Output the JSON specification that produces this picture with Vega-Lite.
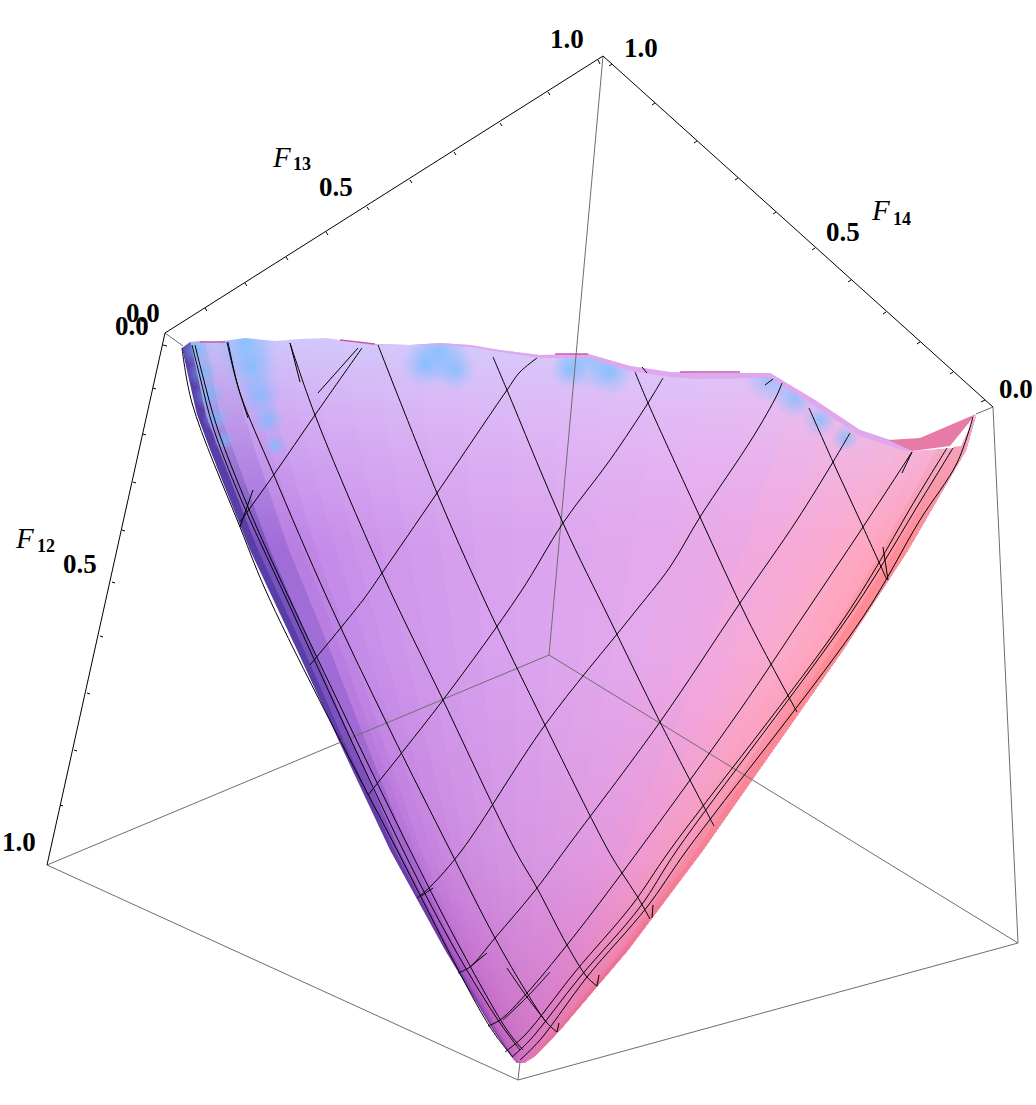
{
"$schema":"https://vega.github.io/schema/vega-lite/v6.json",
"width":1036,"height":1105,"padding":0,"autosize":"none","background":"white",
"config":{"view":{"stroke":null}},
"datasets":{
"surface":[
{"t":0,"y":335,"x":179,"xr":1010},{"t":0,"y":415,"x":197,"xr":976},{"t":0,"y":450,"x":210,"xr":966},{"t":0,"y":550,"x":250,"xr":908},{"t":0,"y":650,"x":297,"xr":843},{"t":0,"y":750,"x":343,"xr":773},{"t":0,"y":850,"x":390,"xr":703},{"t":0,"y":950,"x":445,"xr":628},{"t":0,"y":1030,"x":493,"xr":560},{"t":0,"y":1056,"x":511,"xr":535},{"t":0,"y":1063,"x":517,"xr":524},
{"t":0.012,"y":335,"x":189,"xr":1010},{"t":0.012,"y":415,"x":206,"xr":976},{"t":0.012,"y":450,"x":219,"xr":966},{"t":0.012,"y":550,"x":258,"xr":908},{"t":0.012,"y":650,"x":304,"xr":843},{"t":0.012,"y":750,"x":348,"xr":773},{"t":0.012,"y":850,"x":394,"xr":703},{"t":0.012,"y":950,"x":447,"xr":628},{"t":0.012,"y":1030,"x":494,"xr":560},{"t":0.012,"y":1056,"x":511,"xr":535},{"t":0.012,"y":1063,"x":517,"xr":524},
{"t":0.03,"y":335,"x":204,"xr":1010},{"t":0.03,"y":415,"x":220,"xr":976},{"t":0.03,"y":450,"x":233,"xr":966},{"t":0.03,"y":550,"x":270,"xr":908},{"t":0.03,"y":650,"x":313,"xr":843},{"t":0.03,"y":750,"x":356,"xr":773},{"t":0.03,"y":850,"x":399,"xr":703},{"t":0.03,"y":950,"x":450,"xr":628},{"t":0.03,"y":1030,"x":495,"xr":560},{"t":0.03,"y":1056,"x":512,"xr":535},{"t":0.03,"y":1063,"x":517,"xr":524},
{"t":0.06,"y":335,"x":229,"xr":1010},{"t":0.06,"y":415,"x":244,"xr":976},{"t":0.06,"y":450,"x":255,"xr":966},{"t":0.06,"y":550,"x":289,"xr":908},{"t":0.06,"y":650,"x":330,"xr":843},{"t":0.06,"y":750,"x":369,"xr":773},{"t":0.06,"y":850,"x":409,"xr":703},{"t":0.06,"y":950,"x":456,"xr":628},{"t":0.06,"y":1030,"x":497,"xr":560},{"t":0.06,"y":1056,"x":512,"xr":535},{"t":0.06,"y":1063,"x":517,"xr":524},
{"t":0.08,"y":335,"x":245,"xr":1010},{"t":0.08,"y":415,"x":259,"xr":976},{"t":0.08,"y":450,"x":270,"xr":966},{"t":0.08,"y":550,"x":303,"xr":908},{"t":0.08,"y":650,"x":341,"xr":843},{"t":0.08,"y":750,"x":377,"xr":773},{"t":0.08,"y":850,"x":415,"xr":703},{"t":0.08,"y":950,"x":460,"xr":628},{"t":0.08,"y":1030,"x":498,"xr":560},{"t":0.08,"y":1056,"x":513,"xr":535},{"t":0.08,"y":1063,"x":518,"xr":524},
{"t":0.1,"y":335,"x":262,"xr":1010},{"t":0.1,"y":415,"x":275,"xr":976},{"t":0.1,"y":450,"x":286,"xr":966},{"t":0.1,"y":550,"x":316,"xr":908},{"t":0.1,"y":650,"x":352,"xr":843},{"t":0.1,"y":750,"x":386,"xr":773},{"t":0.1,"y":850,"x":421,"xr":703},{"t":0.1,"y":950,"x":463,"xr":628},{"t":0.1,"y":1030,"x":500,"xr":560},{"t":0.1,"y":1056,"x":513,"xr":535},{"t":0.1,"y":1063,"x":518,"xr":524},
{"t":0.13,"y":335,"x":287,"xr":1010},{"t":0.13,"y":415,"x":298,"xr":976},{"t":0.13,"y":450,"x":308,"xr":966},{"t":0.13,"y":550,"x":336,"xr":908},{"t":0.13,"y":650,"x":368,"xr":843},{"t":0.13,"y":750,"x":399,"xr":773},{"t":0.13,"y":850,"x":431,"xr":703},{"t":0.13,"y":950,"x":469,"xr":628},{"t":0.13,"y":1030,"x":502,"xr":560},{"t":0.13,"y":1056,"x":514,"xr":535},{"t":0.13,"y":1063,"x":518,"xr":524},
{"t":0.16,"y":335,"x":312,"xr":1010},{"t":0.16,"y":415,"x":322,"xr":976},{"t":0.16,"y":450,"x":331,"xr":966},{"t":0.16,"y":550,"x":355,"xr":908},{"t":0.16,"y":650,"x":384,"xr":843},{"t":0.16,"y":750,"x":412,"xr":773},{"t":0.16,"y":850,"x":440,"xr":703},{"t":0.16,"y":950,"x":474,"xr":628},{"t":0.16,"y":1030,"x":504,"xr":560},{"t":0.16,"y":1056,"x":515,"xr":535},{"t":0.16,"y":1063,"x":518,"xr":524},
{"t":0.2,"y":335,"x":345,"xr":1010},{"t":0.2,"y":415,"x":353,"xr":976},{"t":0.2,"y":450,"x":361,"xr":966},{"t":0.2,"y":550,"x":382,"xr":908},{"t":0.2,"y":650,"x":406,"xr":843},{"t":0.2,"y":750,"x":429,"xr":773},{"t":0.2,"y":850,"x":453,"xr":703},{"t":0.2,"y":950,"x":482,"xr":628},{"t":0.2,"y":1030,"x":506,"xr":560},{"t":0.2,"y":1056,"x":516,"xr":535},{"t":0.2,"y":1063,"x":518,"xr":524},
{"t":0.24,"y":335,"x":378,"xr":1010},{"t":0.24,"y":415,"x":384,"xr":976},{"t":0.24,"y":450,"x":391,"xr":966},{"t":0.24,"y":550,"x":408,"xr":908},{"t":0.24,"y":650,"x":428,"xr":843},{"t":0.24,"y":750,"x":446,"xr":773},{"t":0.24,"y":850,"x":465,"xr":703},{"t":0.24,"y":950,"x":489,"xr":628},{"t":0.24,"y":1030,"x":509,"xr":560},{"t":0.24,"y":1056,"x":517,"xr":535},{"t":0.24,"y":1063,"x":519,"xr":524},
{"t":0.29,"y":335,"x":420,"xr":1010},{"t":0.29,"y":415,"x":423,"xr":976},{"t":0.29,"y":450,"x":429,"xr":966},{"t":0.29,"y":550,"x":441,"xr":908},{"t":0.29,"y":650,"x":455,"xr":843},{"t":0.29,"y":750,"x":468,"xr":773},{"t":0.29,"y":850,"x":481,"xr":703},{"t":0.29,"y":950,"x":498,"xr":628},{"t":0.29,"y":1030,"x":512,"xr":560},{"t":0.29,"y":1056,"x":518,"xr":535},{"t":0.29,"y":1063,"x":519,"xr":524},
{"t":0.34,"y":335,"x":462,"xr":1010},{"t":0.34,"y":415,"x":462,"xr":976},{"t":0.34,"y":450,"x":467,"xr":966},{"t":0.34,"y":550,"x":474,"xr":908},{"t":0.34,"y":650,"x":483,"xr":843},{"t":0.34,"y":750,"x":489,"xr":773},{"t":0.34,"y":850,"x":496,"xr":703},{"t":0.34,"y":950,"x":507,"xr":628},{"t":0.34,"y":1030,"x":516,"xr":560},{"t":0.34,"y":1056,"x":519,"xr":535},{"t":0.34,"y":1063,"x":519,"xr":524},
{"t":0.4,"y":335,"x":511,"xr":1010},{"t":0.4,"y":415,"x":509,"xr":976},{"t":0.4,"y":450,"x":512,"xr":966},{"t":0.4,"y":550,"x":513,"xr":908},{"t":0.4,"y":650,"x":515,"xr":843},{"t":0.4,"y":750,"x":515,"xr":773},{"t":0.4,"y":850,"x":515,"xr":703},{"t":0.4,"y":950,"x":518,"xr":628},{"t":0.4,"y":1030,"x":520,"xr":560},{"t":0.4,"y":1056,"x":521,"xr":535},{"t":0.4,"y":1063,"x":520,"xr":524},
{"t":0.46,"y":335,"x":561,"xr":1010},{"t":0.46,"y":415,"x":555,"xr":976},{"t":0.46,"y":450,"x":558,"xr":966},{"t":0.46,"y":550,"x":553,"xr":908},{"t":0.46,"y":650,"x":548,"xr":843},{"t":0.46,"y":750,"x":541,"xr":773},{"t":0.46,"y":850,"x":534,"xr":703},{"t":0.46,"y":950,"x":529,"xr":628},{"t":0.46,"y":1030,"x":524,"xr":560},{"t":0.46,"y":1056,"x":522,"xr":535},{"t":0.46,"y":1063,"x":520,"xr":524},
{"t":0.52,"y":335,"x":611,"xr":1010},{"t":0.52,"y":415,"x":602,"xr":976},{"t":0.52,"y":450,"x":603,"xr":966},{"t":0.52,"y":550,"x":592,"xr":908},{"t":0.52,"y":650,"x":581,"xr":843},{"t":0.52,"y":750,"x":567,"xr":773},{"t":0.52,"y":850,"x":553,"xr":703},{"t":0.52,"y":950,"x":540,"xr":628},{"t":0.52,"y":1030,"x":528,"xr":560},{"t":0.52,"y":1056,"x":523,"xr":535},{"t":0.52,"y":1063,"x":521,"xr":524},
{"t":0.58,"y":335,"x":661,"xr":1010},{"t":0.58,"y":415,"x":649,"xr":976},{"t":0.58,"y":450,"x":648,"xr":966},{"t":0.58,"y":550,"x":632,"xr":908},{"t":0.58,"y":650,"x":614,"xr":843},{"t":0.58,"y":750,"x":592,"xr":773},{"t":0.58,"y":850,"x":572,"xr":703},{"t":0.58,"y":950,"x":551,"xr":628},{"t":0.58,"y":1030,"x":532,"xr":560},{"t":0.58,"y":1056,"x":525,"xr":535},{"t":0.58,"y":1063,"x":521,"xr":524},
{"t":0.64,"y":335,"x":711,"xr":1010},{"t":0.64,"y":415,"x":696,"xr":976},{"t":0.64,"y":450,"x":694,"xr":966},{"t":0.64,"y":550,"x":671,"xr":908},{"t":0.64,"y":650,"x":646,"xr":843},{"t":0.64,"y":750,"x":618,"xr":773},{"t":0.64,"y":850,"x":590,"xr":703},{"t":0.64,"y":950,"x":562,"xr":628},{"t":0.64,"y":1030,"x":536,"xr":560},{"t":0.64,"y":1056,"x":526,"xr":535},{"t":0.64,"y":1063,"x":521,"xr":524},
{"t":0.7,"y":335,"x":761,"xr":1010},{"t":0.7,"y":415,"x":742,"xr":976},{"t":0.7,"y":450,"x":739,"xr":966},{"t":0.7,"y":550,"x":711,"xr":908},{"t":0.7,"y":650,"x":679,"xr":843},{"t":0.7,"y":750,"x":644,"xr":773},{"t":0.7,"y":850,"x":609,"xr":703},{"t":0.7,"y":950,"x":573,"xr":628},{"t":0.7,"y":1030,"x":540,"xr":560},{"t":0.7,"y":1056,"x":528,"xr":535},{"t":0.7,"y":1063,"x":522,"xr":524},
{"t":0.75,"y":335,"x":802,"xr":1010},{"t":0.75,"y":415,"x":781,"xr":976},{"t":0.75,"y":450,"x":777,"xr":966},{"t":0.75,"y":550,"x":744,"xr":908},{"t":0.75,"y":650,"x":707,"xr":843},{"t":0.75,"y":750,"x":666,"xr":773},{"t":0.75,"y":850,"x":625,"xr":703},{"t":0.75,"y":950,"x":582,"xr":628},{"t":0.75,"y":1030,"x":543,"xr":560},{"t":0.75,"y":1056,"x":529,"xr":535},{"t":0.75,"y":1063,"x":522,"xr":524},
{"t":0.8,"y":335,"x":844,"xr":1010},{"t":0.8,"y":415,"x":820,"xr":976},{"t":0.8,"y":450,"x":815,"xr":966},{"t":0.8,"y":550,"x":776,"xr":908},{"t":0.8,"y":650,"x":734,"xr":843},{"t":0.8,"y":750,"x":687,"xr":773},{"t":0.8,"y":850,"x":640,"xr":703},{"t":0.8,"y":950,"x":591,"xr":628},{"t":0.8,"y":1030,"x":547,"xr":560},{"t":0.8,"y":1056,"x":530,"xr":535},{"t":0.8,"y":1063,"x":523,"xr":524},
{"t":0.84,"y":335,"x":877,"xr":1010},{"t":0.84,"y":415,"x":851,"xr":976},{"t":0.84,"y":450,"x":845,"xr":966},{"t":0.84,"y":550,"x":803,"xr":908},{"t":0.84,"y":650,"x":756,"xr":843},{"t":0.84,"y":750,"x":704,"xr":773},{"t":0.84,"y":850,"x":653,"xr":703},{"t":0.84,"y":950,"x":599,"xr":628},{"t":0.84,"y":1030,"x":549,"xr":560},{"t":0.84,"y":1056,"x":531,"xr":535},{"t":0.84,"y":1063,"x":523,"xr":524},
{"t":0.88,"y":335,"x":910,"xr":1010},{"t":0.88,"y":415,"x":883,"xr":976},{"t":0.88,"y":450,"x":875,"xr":966},{"t":0.88,"y":550,"x":829,"xr":908},{"t":0.88,"y":650,"x":777,"xr":843},{"t":0.88,"y":750,"x":721,"xr":773},{"t":0.88,"y":850,"x":665,"xr":703},{"t":0.88,"y":950,"x":606,"xr":628},{"t":0.88,"y":1030,"x":552,"xr":560},{"t":0.88,"y":1056,"x":532,"xr":535},{"t":0.88,"y":1063,"x":523,"xr":524},
{"t":0.91,"y":335,"x":935,"xr":1010},{"t":0.91,"y":415,"x":906,"xr":976},{"t":0.91,"y":450,"x":898,"xr":966},{"t":0.91,"y":550,"x":849,"xr":908},{"t":0.91,"y":650,"x":794,"xr":843},{"t":0.91,"y":750,"x":734,"xr":773},{"t":0.91,"y":850,"x":675,"xr":703},{"t":0.91,"y":950,"x":612,"xr":628},{"t":0.91,"y":1030,"x":554,"xr":560},{"t":0.91,"y":1056,"x":533,"xr":535},{"t":0.91,"y":1063,"x":523,"xr":524},
{"t":0.94,"y":335,"x":960,"xr":1010},{"t":0.94,"y":415,"x":929,"xr":976},{"t":0.94,"y":450,"x":921,"xr":966},{"t":0.94,"y":550,"x":869,"xr":908},{"t":0.94,"y":650,"x":810,"xr":843},{"t":0.94,"y":750,"x":747,"xr":773},{"t":0.94,"y":850,"x":684,"xr":703},{"t":0.94,"y":950,"x":617,"xr":628},{"t":0.94,"y":1030,"x":556,"xr":560},{"t":0.94,"y":1056,"x":534,"xr":535},{"t":0.94,"y":1063,"x":524,"xr":524},
{"t":0.96,"y":335,"x":977,"xr":1010},{"t":0.96,"y":415,"x":945,"xr":976},{"t":0.96,"y":450,"x":936,"xr":966},{"t":0.96,"y":550,"x":882,"xr":908},{"t":0.96,"y":650,"x":821,"xr":843},{"t":0.96,"y":750,"x":756,"xr":773},{"t":0.96,"y":850,"x":690,"xr":703},{"t":0.96,"y":950,"x":621,"xr":628},{"t":0.96,"y":1030,"x":557,"xr":560},{"t":0.96,"y":1056,"x":534,"xr":535},{"t":0.96,"y":1063,"x":524,"xr":524},
{"t":0.98,"y":335,"x":993,"xr":1010},{"t":0.98,"y":415,"x":960,"xr":976},{"t":0.98,"y":450,"x":951,"xr":966},{"t":0.98,"y":550,"x":895,"xr":908},{"t":0.98,"y":650,"x":832,"xr":843},{"t":0.98,"y":750,"x":764,"xr":773},{"t":0.98,"y":850,"x":697,"xr":703},{"t":0.98,"y":950,"x":624,"xr":628},{"t":0.98,"y":1030,"x":559,"xr":560},{"t":0.98,"y":1056,"x":535,"xr":535},{"t":0.98,"y":1063,"x":524,"xr":524}
],
"spots":[
{"x":197,"y":350,"w":1100},{"x":203,"y":372,"w":1100},{"x":209,"y":395,"w":1000},{"x":216,"y":418,"w":800},{"x":224,"y":440,"w":500},
{"x":245,"y":342,"w":4500},{"x":252,"y":368,"w":3000},{"x":260,"y":395,"w":2000},{"x":268,"y":420,"w":1200},{"x":275,"y":445,"w":600},
{"x":440,"y":350,"w":4000},{"x":455,"y":370,"w":1800},{"x":425,"y":365,"w":2200},
{"x":590,"y":352,"w":6000},{"x":610,"y":372,"w":2200},{"x":570,"y":370,"w":1500},
{"x":772,"y":375,"w":3400},{"x":795,"y":398,"w":1800},{"x":820,"y":420,"w":1200},{"x":845,"y":438,"w":800}
],
"mask":[
{"o":1,"x":150,"y":470},{"o":2,"x":216,"y":465},{"o":3,"x":210,"y":450},{"o":4,"x":197,"y":415},{"o":5,"x":192,"y":402},{"o":6,"x":182,"y":348},{"o":7,"x":190,"y":342},{"o":8,"x":198,"y":341},{"o":9,"x":215,"y":342},{"o":10,"x":245,"y":338},{"o":11,"x":275,"y":341},{"o":12,"x":300,"y":339},{"o":13,"x":327,"y":338},{"o":14,"x":340,"y":341},{"o":15,"x":370,"y":344},{"o":16,"x":410,"y":345},{"o":17,"x":440,"y":343},{"o":18,"x":470,"y":345},{"o":19,"x":500,"y":350},{"o":20,"x":540,"y":355},{"o":21,"x":588,"y":354},{"o":22,"x":630,"y":366},{"o":23,"x":670,"y":372},{"o":24,"x":700,"y":373},{"o":25,"x":770,"y":373},{"o":26,"x":815,"y":400},{"o":27,"x":860,"y":430},{"o":28,"x":890,"y":440},{"o":29,"x":912,"y":451},{"o":30,"x":953,"y":448},{"o":31,"x":976,"y":415},{"o":32,"x":1036,"y":415},{"o":33,"x":1036,"y":300},{"o":34,"x":150,"y":300}
],
"polys":[
{"id":"band","o":1,"x":327,"y":338},{"id":"band","o":2,"x":340,"y":341},{"id":"band","o":3,"x":370,"y":344},{"id":"band","o":4,"x":410,"y":345},{"id":"band","o":5,"x":440,"y":343},{"id":"band","o":6,"x":470,"y":345},{"id":"band","o":7,"x":500,"y":350},{"id":"band","o":8,"x":540,"y":355},{"id":"band","o":9,"x":588,"y":354},{"id":"band","o":10,"x":630,"y":366},{"id":"band","o":11,"x":670,"y":372},{"id":"band","o":12,"x":700,"y":373},{"id":"band","o":13,"x":770,"y":373},{"id":"band","o":14,"x":815,"y":400},{"id":"band","o":15,"x":860,"y":430},{"id":"band","o":16,"x":890,"y":440},{"id":"band","o":17,"x":912,"y":451},{"id":"band","o":18,"x":905,"y":451},{"id":"band","o":19,"x":860,"y":436},{"id":"band","o":20,"x":813,"y":405},{"id":"band","o":21,"x":770,"y":378},{"id":"band","o":22,"x":700,"y":379},{"id":"band","o":23,"x":670,"y":377},{"id":"band","o":24,"x":630,"y":371},{"id":"band","o":25,"x":588,"y":358},{"id":"band","o":26,"x":540,"y":358},{"id":"band","o":27,"x":500,"y":352},{"id":"band","o":28,"x":470,"y":347},{"id":"band","o":29,"x":440,"y":345},{"id":"band","o":30,"x":370,"y":345},
{"id":"fold","o":1,"x":888,"y":440},{"id":"fold","o":2,"x":920,"y":438},{"id":"fold","o":3,"x":976,"y":414},{"id":"fold","o":4,"x":950,"y":446},{"id":"fold","o":5,"x":912,"y":451},
{"id":"gap","o":1,"x":952,"y":447},{"id":"gap","o":2,"x":973,"y":420},{"id":"gap","o":3,"x":961,"y":446}
],
"mesh":[
{"id":"a1","o":1,"x":227,"y":342},{"id":"a1","o":2,"x":240,"y":393},{"id":"a1","o":3,"x":273,"y":473},{"id":"a1","o":4,"x":328,"y":600},{"id":"a1","o":5,"x":390,"y":730},{"id":"a1","o":6,"x":450,"y":850},{"id":"a1","o":7,"x":495,"y":938},{"id":"a1","o":8,"x":527,"y":993},{"id":"a1","o":9,"x":547,"y":1023},{"id":"a1","o":10,"x":557,"y":1032},
{"id":"a2","o":1,"x":290,"y":343},{"id":"a2","o":2,"x":315,"y":415},{"id":"a2","o":3,"x":382,"y":573},{"id":"a2","o":4,"x":443,"y":700},{"id":"a2","o":5,"x":515,"y":850},{"id":"a2","o":6,"x":537,"y":888},{"id":"a2","o":7,"x":567,"y":945},{"id":"a2","o":8,"x":587,"y":977},{"id":"a2","o":9,"x":597,"y":986},
{"id":"a3","o":1,"x":378,"y":345},{"id":"a3","o":2,"x":437,"y":493},{"id":"a3","o":3,"x":483,"y":597},{"id":"a3","o":4,"x":545,"y":725},{"id":"a3","o":5,"x":608,"y":850},{"id":"a3","o":6,"x":622,"y":873},{"id":"a3","o":7,"x":637,"y":896},{"id":"a3","o":8,"x":650,"y":919},
{"id":"a4","o":1,"x":493,"y":357},{"id":"a4","o":2,"x":507,"y":390},{"id":"a4","o":3,"x":563,"y":523},{"id":"a4","o":4,"x":610,"y":620},{"id":"a4","o":5,"x":660,"y":722},{"id":"a4","o":6,"x":714,"y":826},
{"id":"a5","o":1,"x":635,"y":372},{"id":"a5","o":2,"x":648,"y":403},{"id":"a5","o":3,"x":700,"y":517},{"id":"a5","o":4,"x":748,"y":620},{"id":"a5","o":5,"x":797,"y":712},
{"id":"a6","o":1,"x":809,"y":408},{"id":"a6","o":2,"x":833,"y":462},{"id":"a6","o":3,"x":863,"y":527},{"id":"a6","o":4,"x":887,"y":580},
{"id":"e1","o":1,"x":182,"y":348},{"id":"e1","o":2,"x":192,"y":403},{"id":"e1","o":3,"x":240,"y":527},{"id":"e1","o":4,"x":270,"y":600},{"id":"e1","o":5,"x":397,"y":850},{"id":"e1","o":6,"x":490,"y":1027},{"id":"e1","o":7,"x":513,"y":1057},
{"id":"e2","o":1,"x":192,"y":345},{"id":"e2","o":2,"x":200,"y":377},{"id":"e2","o":3,"x":213,"y":427},{"id":"e2","o":4,"x":240,"y":497},{"id":"e2","o":5,"x":287,"y":600},{"id":"e2","o":6,"x":403,"y":850},{"id":"e2","o":7,"x":457,"y":953},{"id":"e2","o":8,"x":500,"y":1023},{"id":"e2","o":9,"x":520,"y":1050},
{"id":"e3","o":1,"x":195,"y":345},{"id":"e3","o":2,"x":203,"y":377},{"id":"e3","o":3,"x":217,"y":427},{"id":"e3","o":4,"x":248,"y":507},{"id":"e3","o":5,"x":290,"y":600},{"id":"e3","o":6,"x":410,"y":850},{"id":"e3","o":7,"x":463,"y":953},{"id":"e3","o":8,"x":507,"y":1030},{"id":"e3","o":9,"x":523,"y":1050},
{"id":"s1","o":1,"x":228,"y":342},{"id":"s1","o":2,"x":237,"y":383},{"id":"s1","o":3,"x":248,"y":418},
{"id":"s2","o":1,"x":290,"y":343},{"id":"s2","o":2,"x":300,"y":382},
{"id":"s3","o":1,"x":507,"y":968},{"id":"s3","o":2,"x":527,"y":997},{"id":"s3","o":3,"x":547,"y":1023},
{"id":"r1","o":1,"x":973,"y":417},{"id":"r1","o":2,"x":957,"y":463},{"id":"r1","o":3,"x":920,"y":520},{"id":"r1","o":4,"x":863,"y":617},{"id":"r1","o":5,"x":687,"y":850},{"id":"r1","o":6,"x":647,"y":907},{"id":"r1","o":7,"x":587,"y":977},{"id":"r1","o":8,"x":540,"y":1040},{"id":"r1","o":9,"x":520,"y":1060},
{"id":"r2","o":1,"x":953,"y":448},{"id":"r2","o":2,"x":923,"y":497},{"id":"r2","o":3,"x":853,"y":610},{"id":"r2","o":4,"x":677,"y":850},{"id":"r2","o":5,"x":640,"y":907},{"id":"r2","o":6,"x":580,"y":977},{"id":"r2","o":7,"x":530,"y":1040},{"id":"r2","o":8,"x":512,"y":1057},
{"id":"r3","o":1,"x":947,"y":448},{"id":"r3","o":2,"x":917,"y":497},{"id":"r3","o":3,"x":845,"y":617},{"id":"r3","o":4,"x":670,"y":850},{"id":"r3","o":5,"x":632,"y":905},{"id":"r3","o":6,"x":575,"y":972},{"id":"r3","o":7,"x":525,"y":1035},{"id":"r3","o":8,"x":505,"y":1052},
{"id":"b1","o":1,"x":912,"y":452},{"id":"b1","o":2,"x":863,"y":527},{"id":"b1","o":3,"x":802,"y":618},{"id":"b1","o":4,"x":740,"y":710},{"id":"b1","o":5,"x":622,"y":873},{"id":"b1","o":6,"x":567,"y":945},{"id":"b1","o":7,"x":527,"y":993},{"id":"b1","o":8,"x":500,"y":1020},{"id":"b1","o":9,"x":488,"y":1026},
{"id":"b1s","o":1,"x":902,"y":473},{"id":"b1s","o":2,"x":912,"y":452},
{"id":"b1t","o":1,"x":550,"y":972},{"id":"b1t","o":2,"x":527,"y":997},{"id":"b1t","o":3,"x":503,"y":1020},
{"id":"b2","o":1,"x":850,"y":433},{"id":"b2","o":2,"x":833,"y":462},{"id":"b2","o":3,"x":797,"y":520},{"id":"b2","o":4,"x":740,"y":603},{"id":"b2","o":5,"x":660,"y":722},{"id":"b2","o":6,"x":565,"y":850},{"id":"b2","o":7,"x":537,"y":888},{"id":"b2","o":8,"x":495,"y":938},{"id":"b2","o":9,"x":470,"y":967},{"id":"b2","o":10,"x":458,"y":973},
{"id":"b2s","o":1,"x":487,"y":953},{"id":"b2s","o":2,"x":470,"y":967},
{"id":"b3","o":1,"x":782,"y":383},{"id":"b3","o":2,"x":777,"y":395},{"id":"b3","o":3,"x":753,"y":437},{"id":"b3","o":4,"x":700,"y":517},{"id":"b3","o":5,"x":670,"y":567},{"id":"b3","o":6,"x":630,"y":618},{"id":"b3","o":7,"x":545,"y":725},{"id":"b3","o":8,"x":462,"y":850},{"id":"b3","o":9,"x":430,"y":887},{"id":"b3","o":10,"x":417,"y":898},
{"id":"b3s","o":1,"x":433,"y":888},{"id":"b3s","o":2,"x":420,"y":897},
{"id":"b4","o":1,"x":663,"y":378},{"id":"b4","o":2,"x":648,"y":403},{"id":"b4","o":3,"x":610,"y":460},{"id":"b4","o":4,"x":563,"y":523},{"id":"b4","o":5,"x":520,"y":593},{"id":"b4","o":6,"x":443,"y":700},{"id":"b4","o":7,"x":368,"y":795},
{"id":"b5","o":1,"x":362,"y":348},{"id":"b5","o":2,"x":315,"y":415},{"id":"b5","o":3,"x":275,"y":473},{"id":"b5","o":4,"x":240,"y":522},
{"id":"b5s","o":1,"x":358,"y":348},{"id":"b5s","o":2,"x":318,"y":393},
{"id":"b5t","o":1,"x":253,"y":490},{"id":"b5t","o":2,"x":240,"y":527},
{"id":"b6","o":1,"x":537,"y":358},{"id":"b6","o":2,"x":520,"y":372},{"id":"b6","o":3,"x":507,"y":390},{"id":"b6","o":4,"x":437,"y":493},{"id":"b6","o":5,"x":382,"y":573},{"id":"b6","o":6,"x":363,"y":600},{"id":"b6","o":7,"x":310,"y":665},
{"id":"k1","o":1,"x":765,"y":385},{"id":"k1","o":2,"x":773,"y":379},
{"id":"k2","o":1,"x":883,"y":547},{"id":"k2","o":2,"x":888,"y":580},
{"id":"k3","o":1,"x":653,"y":905},{"id":"k3","o":2,"x":652,"y":918},
{"id":"k4","o":1,"x":599,"y":975},{"id":"k4","o":2,"x":597,"y":986},
{"id":"k5","o":1,"x":559,"y":1023},{"id":"k5","o":2,"x":557,"y":1032},
{"id":"k6","o":1,"x":642,"y":367},{"id":"k6","o":2,"x":647,"y":373}
],
"backLines":[
{"x":603,"y":56,"x2":549,"y2":655},{"x":549,"y":655,"x2":47,"y2":865},{"x":549,"y":655,"x2":1018,"y2":943},
{"x":47,"y":865,"x2":518,"y2":1080},{"x":518,"y":1080,"x2":1018,"y2":943},{"x":1018,"y":943,"x2":993,"y2":407},
{"x":993,"y":407,"x2":976,"y2":414},{"x":165,"y":333,"x2":183,"y2":346},{"x":518,"y":1080,"x2":520,"y2":1062}
],
"frontLines":[
{"x":165,"y":333,"x2":603,"y2":56},{"x":603,"y":56,"x2":993,"y2":407},{"x":165,"y":333,"x2":47,"y2":865},
{"x":205,"y":308,"x2":207,"y2":311},{"x":245,"y":283,"x2":247,"y2":286},{"x":286,"y":257,"x2":288,"y2":260},{"x":326,"y":232,"x2":328,"y2":235},{"x":367,"y":207,"x2":369,"y2":210},{"x":410,"y":180,"x2":412,"y2":183},{"x":454,"y":152,"x2":456,"y2":155},{"x":500,"y":123,"x2":502,"y2":126},{"x":548,"y":92,"x2":550,"y2":95},{"x":598,"y":60,"x2":600,"y2":64},
{"x":612,"y":64,"x2":609,"y2":66},{"x":655,"y":103,"x2":652,"y2":105},{"x":697,"y":141,"x2":694,"y2":143},{"x":738,"y":178,"x2":735,"y2":180},{"x":776,"y":212,"x2":773,"y2":214},{"x":815,"y":248,"x2":812,"y2":250},{"x":851,"y":280,"x2":848,"y2":282},{"x":886,"y":312,"x2":883,"y2":314},{"x":920,"y":342,"x2":917,"y2":344},{"x":953,"y":372,"x2":950,"y2":374},{"x":985,"y":400,"x2":981,"y2":402},
{"x":163,"y":345,"x2":167,"y2":346},{"x":153,"y":388,"x2":156,"y2":389},{"x":143,"y":434,"x2":146,"y2":435},{"x":133,"y":482,"x2":136,"y2":483},{"x":122,"y":530,"x2":125,"y2":531},{"x":112,"y":582,"x2":115,"y2":583},{"x":100,"y":636,"x2":103,"y2":637},{"x":87,"y":693,"x2":90,"y2":694},{"x":74,"y":750,"x2":77,"y2":751},{"x":60,"y":805,"x2":63,"y2":806}
],
"pinkLines":[
{"x":200,"y":342,"x2":225,"y2":342},{"x":340,"y":340,"x2":375,"y2":344},{"x":555,"y":354,"x2":588,"y2":354},{"x":680,"y":372,"x2":740,"y2":372}
],
"labels":[
{"kind":"num","text":"1.0","x":550,"y":48},{"kind":"num","text":"1.0","x":624,"y":57},{"kind":"num","text":"0.5","x":319,"y":196},{"kind":"num","text":"0.0","x":126,"y":322},{"kind":"num","text":"0.0","x":115,"y":335},{"kind":"num","text":"0.5","x":63,"y":573},{"kind":"num","text":"0.0","x":999,"y":398},{"kind":"num","text":"1.0","x":2,"y":851},{"kind":"num","text":"0.5","x":826,"y":241},
{"kind":"var","text":"F","x":273,"y":167},{"kind":"var","text":"F","x":16,"y":548},{"kind":"var","text":"F","x":872,"y":220},
{"kind":"sub","text":"13","x":293,"y":170},{"kind":"sub","text":"12","x":37,"y":552},{"kind":"sub","text":"14","x":893,"y":225}
]
},
"layer":[
{"data":{"name":"surface"},
 "mark":{"type":"area","orient":"horizontal","strokeWidth":0},
 "encoding":{
  "y":{"field":"y","type":"quantitative","scale":{"domain":[0,1105],"reverse":true},"axis":null},
  "x":{"field":"x","type":"quantitative","scale":{"domain":[0,1036]},"axis":null,"stack":null},
  "x2":{"field":"xr"},
  "detail":{"field":"t","type":"nominal"},
  "fill":{"field":"t","type":"quantitative","legend":null,"scale":{"domain":[0,0.012,0.03,0.06,0.1,0.16,0.24,0.34,0.46,0.58,0.7,0.8,0.88,0.94,0.98],"range":["#5a3ea8","#7a52c0","#a06cd6","#b87ee2","#c48ce8","#cc94ea","#d29cec","#d8a2ee","#dea6ee","#e4a8ec","#eca8e4","#f6aad8","#fcaaca","#ffa4bc","#ff8c94"]}}
 }},
{"data":{"name":"surface"},
 "transform":[{"filter":"datum.t==0.012 && datum.y<=550"}],
 "mark":{"type":"area","orient":"horizontal","color":{"gradient":"linear","x1":0,"y1":0,"x2":0,"y2":1,"stops":[{"offset":0,"color":"rgba(210,215,255,0.8)"},{"offset":0.4,"color":"rgba(225,205,255,0.45)"},{"offset":1,"color":"rgba(225,190,255,0)"}]}},
 "encoding":{
  "y":{"field":"y","type":"quantitative","scale":{"domain":[0,1105],"reverse":true},"axis":null},
  "x":{"field":"x","type":"quantitative","scale":{"domain":[0,1036]},"axis":null,"stack":null},
  "x2":{"field":"xr"}
 }},
{"data":{"name":"surface"},
 "transform":[{"filter":"datum.t==0 && datum.y>=650"}],
 "mark":{"type":"area","orient":"horizontal","color":{"gradient":"linear","x1":0,"y1":0,"x2":0,"y2":1,"stops":[{"offset":0,"color":"rgba(190,50,150,0)"},{"offset":0.5,"color":"rgba(190,50,150,0.13)"},{"offset":1,"color":"rgba(190,40,130,0.42)"}]}},
 "encoding":{
  "y":{"field":"y","type":"quantitative","scale":{"domain":[0,1105],"reverse":true},"axis":null},
  "x":{"field":"x","type":"quantitative","scale":{"domain":[0,1036]},"axis":null,"stack":null},
  "x2":{"field":"xr"}
 }},
{"data":{"name":"spots"},
 "mark":{"type":"point","filled":true,"opacity":1,"strokeWidth":0,"color":{"gradient":"radial","stops":[{"offset":0,"color":"rgba(110,190,255,0.7)"},{"offset":0.6,"color":"rgba(120,190,255,0.28)"},{"offset":1,"color":"rgba(125,190,255,0)"}]}},
 "encoding":{
  "x":{"field":"x","type":"quantitative","scale":{"domain":[0,1036]},"axis":null},
  "y":{"field":"y","type":"quantitative","scale":{"domain":[0,1105],"reverse":true},"axis":null},
  "size":{"field":"w","type":"quantitative","legend":null,"scale":{"domain":[0,6000],"range":[0,6000]}}
 }},
{"data":{"name":"mask"},
 "mark":{"type":"line","filled":true,"color":"white","interpolate":"linear-closed"},
 "encoding":{
  "x":{"field":"x","type":"quantitative","scale":{"domain":[0,1036]},"axis":null},
  "y":{"field":"y","type":"quantitative","scale":{"domain":[0,1105],"reverse":true},"axis":null},
  "order":{"field":"o"}
 }},
{"data":{"name":"polys"},
 "mark":{"type":"line","filled":true,"interpolate":"linear-closed"},
 "encoding":{
  "x":{"field":"x","type":"quantitative","scale":{"domain":[0,1036]},"axis":null},
  "y":{"field":"y","type":"quantitative","scale":{"domain":[0,1105],"reverse":true},"axis":null},
  "color":{"field":"id","type":"nominal","legend":null,"scale":{"domain":["band","fold","gap"],"range":["#dfa8ee","#e87aa8","#ffffff"]}},
  "order":{"field":"o"}
 }},
{"data":{"name":"pinkLines"},
 "mark":{"type":"rule","color":"#c458ac","strokeWidth":1.5},
 "encoding":{
  "x":{"field":"x","type":"quantitative","scale":{"domain":[0,1036]},"axis":null},
  "y":{"field":"y","type":"quantitative","scale":{"domain":[0,1105],"reverse":true},"axis":null},
  "x2":{"field":"x2"},"y2":{"field":"y2"}
 }},
{"data":{"name":"backLines"},
 "mark":{"type":"rule","color":"#6e6e6e","strokeWidth":1},
 "encoding":{
  "x":{"field":"x","type":"quantitative","scale":{"domain":[0,1036]},"axis":null},
  "y":{"field":"y","type":"quantitative","scale":{"domain":[0,1105],"reverse":true},"axis":null},
  "x2":{"field":"x2"},"y2":{"field":"y2"}
 }},
{"data":{"name":"frontLines"},
 "mark":{"type":"rule","color":"#000000","strokeWidth":1},
 "encoding":{
  "x":{"field":"x","type":"quantitative","scale":{"domain":[0,1036]},"axis":null},
  "y":{"field":"y","type":"quantitative","scale":{"domain":[0,1105],"reverse":true},"axis":null},
  "x2":{"field":"x2"},"y2":{"field":"y2"}
 }},
{"data":{"name":"mesh"},
 "mark":{"type":"line","color":"#000000","strokeWidth":1,"interpolate":"catmull-rom"},
 "encoding":{
  "x":{"field":"x","type":"quantitative","scale":{"domain":[0,1036]},"axis":null},
  "y":{"field":"y","type":"quantitative","scale":{"domain":[0,1105],"reverse":true},"axis":null},
  "detail":{"field":"id","type":"nominal"},
  "order":{"field":"o"}
 }},
{"data":{"name":"labels"},
 "transform":[{"filter":"datum.kind=='num'"}],
 "mark":{"type":"text","font":"Liberation Serif","fontWeight":"bold","fontSize":27,"align":"left","baseline":"alphabetic","color":"#000000"},
 "encoding":{
  "x":{"field":"x","type":"quantitative","scale":{"domain":[0,1036]},"axis":null},
  "y":{"field":"y","type":"quantitative","scale":{"domain":[0,1105],"reverse":true},"axis":null},
  "text":{"field":"text"}
 }},
{"data":{"name":"labels"},
 "transform":[{"filter":"datum.kind=='var'"}],
 "mark":{"type":"text","font":"Liberation Serif","fontStyle":"italic","fontSize":29,"align":"left","baseline":"alphabetic","color":"#000000"},
 "encoding":{
  "x":{"field":"x","type":"quantitative","scale":{"domain":[0,1036]},"axis":null},
  "y":{"field":"y","type":"quantitative","scale":{"domain":[0,1105],"reverse":true},"axis":null},
  "text":{"field":"text"}
 }},
{"data":{"name":"labels"},
 "transform":[{"filter":"datum.kind=='sub'"}],
 "mark":{"type":"text","font":"Liberation Serif","fontWeight":"bold","fontSize":18,"align":"left","baseline":"alphabetic","color":"#000000"},
 "encoding":{
  "x":{"field":"x","type":"quantitative","scale":{"domain":[0,1036]},"axis":null},
  "y":{"field":"y","type":"quantitative","scale":{"domain":[0,1105],"reverse":true},"axis":null},
  "text":{"field":"text"}
 }}
]
}
